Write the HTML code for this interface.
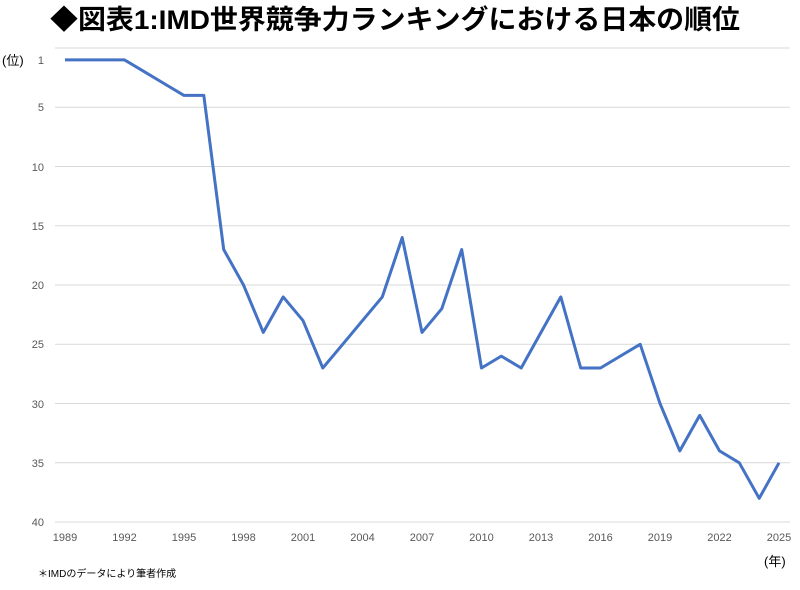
<!DOCTYPE html>
<html><head><meta charset="utf-8"><style>
body{margin:0;background:#fff;width:800px;height:585px;overflow:hidden}
svg text{font-family:"Liberation Sans","Noto Sans CJK JP",sans-serif}
</style></head><body>
<svg width="800" height="585" xmlns="http://www.w3.org/2000/svg">
<text x="50" y="29" font-size="27" font-weight="bold" fill="#000" textLength="690" lengthAdjust="spacingAndGlyphs">◆図表1:IMD世界競争力ランキングにおける日本の順位</text>
<g stroke="#d9d9d9" stroke-width="1">
<line x1="55" x2="790" y1="48" y2="48"/>
<line x1="55" x2="790" y1="107.3" y2="107.3"/>
<line x1="55" x2="790" y1="166.5" y2="166.5"/>
<line x1="55" x2="790" y1="225.8" y2="225.8"/>
<line x1="55" x2="790" y1="285" y2="285"/>
<line x1="55" x2="790" y1="344.3" y2="344.3"/>
<line x1="55" x2="790" y1="403.5" y2="403.5"/>
<line x1="55" x2="790" y1="462.8" y2="462.8"/>
<line x1="55" x2="790" y1="522" y2="522"/>
</g>
<g font-size="11" fill="#595959" text-anchor="end">
<text x="44" y="64">1</text><text x="44" y="111">5</text><text x="44" y="171">10</text><text x="44" y="230">15</text><text x="44" y="289">20</text><text x="44" y="348">25</text><text x="44" y="408">30</text><text x="44" y="467">35</text><text x="44" y="526">40</text>
</g>
<text x="2" y="65" font-size="13" fill="#000">(位)</text>
<g font-size="11" fill="#595959" text-anchor="middle">
<text x="65" y="541">1989</text><text x="124.5" y="541">1992</text><text x="184" y="541">1995</text><text x="243.5" y="541">1998</text><text x="303" y="541">2001</text><text x="362.5" y="541">2004</text><text x="422" y="541">2007</text><text x="481.5" y="541">2010</text><text x="541" y="541">2013</text><text x="600.5" y="541">2016</text><text x="660" y="541">2019</text><text x="719.5" y="541">2022</text><text x="779" y="541">2025</text>
</g>
<text x="764" y="566" font-size="13" fill="#000">(年)</text>
<text x="38" y="577" font-size="10" fill="#000">＊IMDのデータにより筆者作成</text>
<polyline fill="none" stroke="#4472c4" stroke-width="3" stroke-linejoin="round" points="65,59.9 84.8,59.9 104.7,59.9 124.5,59.9 144.3,71.7 164.2,83.6 184,95.4 203.8,95.4 223.7,249.5 243.5,285 263.3,332.4 283.2,296.9 303,320.6 322.8,368 342.7,344.3 362.5,320.6 382.3,296.9 402.2,237.6 422,332.4 441.8,308.7 461.7,249.5 481.5,368 501.3,356.1 521.2,368 541,332.4 560.8,296.9 580.7,368 600.5,368 620.3,356.1 640.2,344.3 660,403.5 679.8,450.9 699.7,415.4 719.5,450.9 739.3,462.8 759.2,498.3 779,462.8"/>
</svg>
</body></html>
